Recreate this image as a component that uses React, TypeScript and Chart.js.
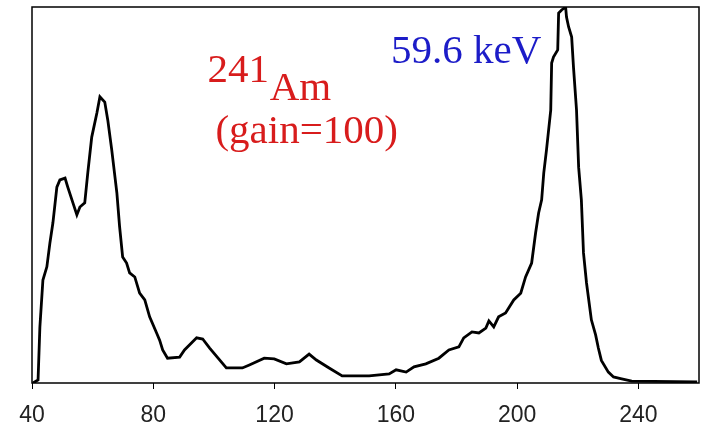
import React, { useEffect, useRef } from "react";
import { Chart, registerables } from "chart.js";

Chart.register(...registerables);

const channels = [
  40.3, 42, 42.6, 43.6, 44.9, 45.9, 46.9, 48.2, 49.2, 50.9, 51.8, 53.5, 54.8, 55.8, 57.4, 58.4, 59.7, 61.4, 62.4, 64,
  65, 66.3, 68, 68.9, 69.9, 71.2, 72.2, 73.9, 75.5, 77.2, 78.8, 81.1, 82.1, 83.1, 84.7, 88.7, 90.3, 94.3, 96.3, 98.6,
  104.1, 109.4, 111.7, 116.6, 119.9, 123.9, 128.2, 131.4, 133.8, 138, 142.3, 144.6, 151.2, 157.8, 160.1, 163.4, 166,
  169.9, 174.2, 177.5, 180.8, 182.4, 185.1, 187.4, 189.7, 190.7, 192.3, 193.9, 196.2, 198.9, 201.2, 202.8, 204.8,
  206.1, 207.1, 208.1, 208.8, 209.7, 211.1, 211.4, 212, 213.4, 213.7, 214.7, 216, 216.3, 217, 218, 218.6, 219.6, 220.3,
  221.2, 221.9, 222.9, 224.5, 225.9, 226.8, 227.8, 230.1, 231.8, 234.5, 237.8, 259.4,
];
const counts = [
  0, 0.8, 14.9, 27.4, 30.9, 37.2, 42.6, 52.1, 54, 54.5, 52.1, 47.9, 44.7, 46.8, 47.9, 55.9, 65.4, 71.8, 76.1, 74.7,
  69.9, 62, 50.5, 41.5, 33.5, 31.9, 29.3, 28.2, 23.9, 22.1, 17.6, 13.3, 11.4, 8.8, 6.6, 6.9, 8.8, 12, 11.7, 9.3,
  4, 4, 4.8, 6.6, 6.4, 5.1, 5.6, 7.7, 6.1, 4, 1.9, 1.9, 1.9, 2.4, 3.5, 2.9, 4.3,
  5.1, 6.6, 8.8, 9.6, 12, 13.6, 13.3, 14.6, 16.5, 14.9, 17.6, 18.6, 22.1, 23.9, 28.2, 31.9,
  39.9, 45.2, 48.7, 55.9, 62, 72.6, 85.1, 86.7, 88.6, 98.4, 99.2, 100, 97.3, 94.7, 92, 84, 72.6, 57.4,
  48.7, 34.6, 26.6, 16.8, 12.8, 9.3, 6, 2.9, 1.6, 1.1, 0.5, 0.3,
];
const xTickValues = [40, 80, 120, 160, 200, 240];

// annotation texts placed in data coordinates (channel, counts)
const labelTexts = ["241", "Am", "(gain=100)", "59.6 keV"];
const labelChannels = [97.9, 118.4, 100.5, 158.4];
const labelCounts = [80.1, 75.3, 63.8, 85.1];
const labelColors = ["#d81c1c", "#d81c1c", "#d81c1c", "#1c1cc8"];

const annotationPlugin = {
  id: "annotations",
  afterDatasetsDraw(chart: any) {
    const { ctx, chartArea, scales } = chart;
    ctx.save();
    ctx.strokeStyle = "#000";
    ctx.lineWidth = 1.5;
    ctx.strokeRect(chartArea.left, chartArea.top, chartArea.right - chartArea.left, chartArea.bottom - chartArea.top);
    ctx.textBaseline = "alphabetic";
    ctx.textAlign = "left";
    ctx.font = '41px "Liberation Serif", "Times New Roman", serif';
    labelTexts.forEach((t, i) => {
      ctx.fillStyle = labelColors[i];
      ctx.fillText(t, scales.x.getPixelForValue(labelChannels[i]), scales.y.getPixelForValue(labelCounts[i]));
    });
    ctx.restore();
  },
};

export default function App() {
  const ref = useRef<HTMLCanvasElement>(null);
  useEffect(() => {
    document.body.style.margin = "0";
    const chart = new Chart(ref.current as HTMLCanvasElement, {
      type: "line",
      data: {
        datasets: [
          {
            data: channels.map((c, i) => ({ x: c, y: counts[i] })),
            borderColor: "#000",
            borderWidth: 2.8,
            pointRadius: 0,
            tension: 0,
            fill: false,
          },
        ],
      },
      options: {
        responsive: false,
        animation: false,
        layout: { padding: { left: 32, right: 6, top: 7, bottom: 0 } },
        plugins: { legend: { display: false }, tooltip: { enabled: false } },
        scales: {
          x: {
            type: "linear",
            min: 40,
            max: 260,
            afterBuildTicks: (axis: any) => {
              axis.ticks = xTickValues.map((v) => ({ value: v }));
            },
            afterFit: (axis: any) => {
              axis.height = 43;
            },
            border: { display: false },
            grid: { display: true, drawOnChartArea: false, drawTicks: true, tickLength: 6, color: "#000", lineWidth: 1 },
            ticks: {
              color: "#222",
              padding: 13,
              maxRotation: 0,
              autoSkip: false,
              font: { family: '"Liberation Sans", Arial, sans-serif', size: 23 },
            },
          },
          y: { display: false, min: 0, max: 100 },
        },
      },
      plugins: [annotationPlugin],
    } as any);
    return () => chart.destroy();
  }, []);
  return (
    <div style={{ width: 705, height: 426, background: "#fff" }}>
      <canvas ref={ref} width={705} height={426} />
    </div>
  );
}
